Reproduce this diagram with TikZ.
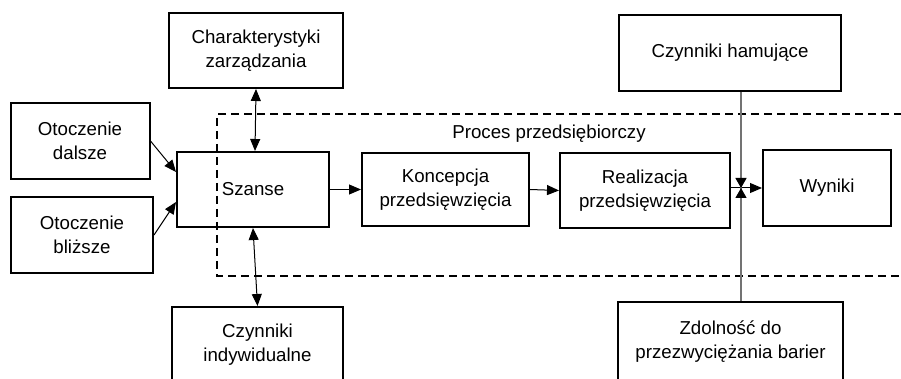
\documentclass[tikz,border=0pt]{standalone}
\usepackage{fontspec}
\setmainfont{Liberation Sans}
\usetikzlibrary{arrows.meta}
\begin{document}
\begin{tikzpicture}[x=1pt,y=-1pt,
  box/.style={draw,line width=2pt,rectangle,inner sep=0pt,align=center,
    font=\fontsize{18.7}{24}\selectfont},
  link/.style={line width=1pt,-{Triangle[length=12pt,width=10pt]}},
  bilink/.style={line width=1pt,{Triangle[length=12pt,width=10pt]}-{Triangle[length=12pt,width=10pt]}},
  barrier/.style={draw=black!55,line width=1.2pt},
  barriertip/.style={black!55,line width=1.2pt,-{Triangle[length=10pt,width=11pt,color=black]}},
  frame/.style={line width=2pt,dash pattern=on 8pt off 5pt}]
\clip (0,0) rectangle (901,379);
\fill[white] (0,0) rectangle (901,379);

% process frame
\draw[frame] (915,114.5) -- (216.5,114.5) -- (216.5,275.5) -- (915,275.5);
\node[font=\fontsize{18.7}{24}\selectfont] (proc) at (549,134) {Proces przedsiębiorczy};

% boxes
\node[box,minimum width=174pt,minimum height=75pt] (char) at (256,50.5) {Charakterystyki\\zarządzania};
\node[box,minimum width=139pt,minimum height=76pt] (dal) at (80,141) {Otoczenie\\dalsze};
\node[box,minimum width=142pt,minimum height=76pt] (bli) at (82,235) {Otoczenie\\bliższe};
\node[box,minimum width=152pt,minimum height=75pt] (sza) at (253,189.5) {Szanse};
\node[box,minimum width=167pt,minimum height=73pt] (kon) at (445.5,189.5) {Koncepcja\\przedsięwzięcia};
\node[box,minimum width=170pt,minimum height=75pt] (rea) at (645,190.5) {Realizacja\\przedsięwzięcia};
\node[box,minimum width=128pt,minimum height=76pt] (wyn) at (827,188) {Wyniki};
\node[box,minimum width=222pt,minimum height=76pt] (ham) at (730,53) {Czynniki hamujące};
\node[box,minimum width=171pt,minimum height=76pt] (ind) at (257.5,345) {Czynniki\\indywidualne};
\node[box,minimum width=225pt,minimum height=80pt] (zdo) at (730.5,342) {Zdolność do\\przezwyciężania barier};

% connectors
\draw[link] (dal.east) -- ([yshift=17.5pt]sza.west);
\draw[link] (bli.east) -- ([yshift=-12.5pt]sza.west);
\draw[bilink] (char.south) -- ([xshift=2pt]sza.north);
\draw[bilink] (sza.south) -- (ind.north);
\draw[link] (sza.east) -- (kon.west);
\draw[link] (kon.east) -- (rea.west);
\draw[link] (rea.east |- wyn.west) -- (wyn.west);

% barrier line crossing the flow into the results
\coordinate (btop) at ([xshift=11pt]ham.south);
\coordinate (bbot) at ([xshift=10.5pt]zdo.north);
\coordinate (jn) at (btop |- wyn.west);
\draw[barrier] (btop) -- (bbot);
\draw[barriertip] (btop) -- (jn);
\draw[barriertip] (bbot) -- (jn);
\end{tikzpicture}
\end{document}
